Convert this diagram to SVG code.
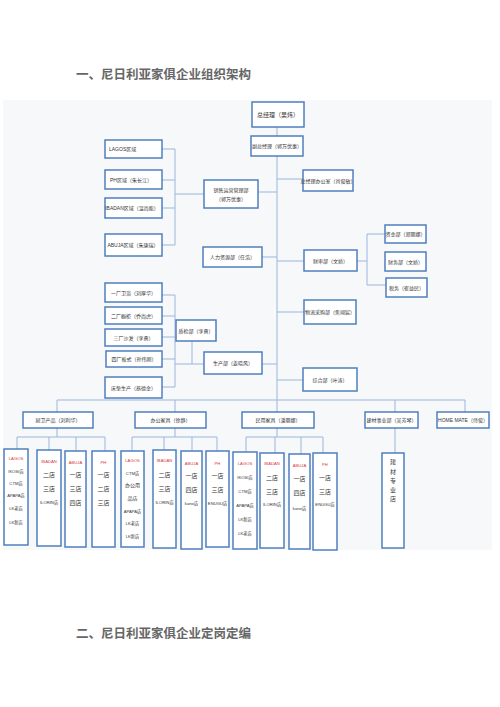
<svg xmlns="http://www.w3.org/2000/svg" width="500" height="707" viewBox="0 0 500 707">
<style>
.t{font-family:"Liberation Sans","Noto Sans CJK SC",sans-serif;font-size:5px;fill:#333;text-anchor:middle}
.c{font-size:6px}
.s{font-size:4.2px}
.r{fill:#d93a3a}
.h{font-family:"Noto Sans CJK SC",sans-serif;font-size:12.5px;fill:#666;font-weight:bold}
rect.b{fill:#fff;stroke:#4f7fbf;stroke-width:1.5}
.ln{fill:none;stroke:#9ab6dc;stroke-width:1}
</style>
<rect width="500" height="707" fill="#fff"/>
<text class="h" x="76" y="79">一、尼日利亚家俱企业组织架构</text>
<text class="h" x="76" y="638">二、尼日利亚家俱企业定岗定编</text>
<rect x="3" y="100" width="489" height="450" fill="#f7f8fa"/>
<g id="connectors" class="ln">
<path d="M277,127 V400"/>
<path d="M258,192 H277 M277,179 H303 M262,257 H277 M277,261 H304 M277,312 H304 M277,380 H303 M262,364 H277"/>
<path d="M357,261 H367 M367,234 V285 M367,234 H385 M367,285 H386"/>
<path d="M162,149 H175 V245 M162,180 H175 M162,208 H175 M162,245 H175 M175,194 H204"/>
<path d="M162,295 H175 V387 M162,316 H175 M162,337 H175 M162,359 H175 M162,387 H175 M175,364 H204 M192,341 V364"/>
<path d="M57,400 H465 M57,400 V412 M175,400 V412 M277,400 V412 M395,400 V412 M465,400 V412"/>
<path d="M57,428 V437 M17,437 H105 M17,437 V449 M49,437 V450 M76,437 V451 M105,437 V451"/>
<path d="M175,428 V437 M132,437 H217 M132,437 V451 M164,437 V450 M192,437 V451 M217,437 V451"/>
<path d="M277,428 V437 M246,437 H323 M246,437 V452 M275,437 V453 M301,437 V454 M323,437 V453"/>
<path d="M395,428 V453"/>
</g>
<g id="gm"><rect class="b" x="252" y="102" width="52" height="25"/><text class="t c" x="278" y="117">总经理（吴炜）</text></g>
<g id="vgm"><rect class="b" x="251" y="136" width="52" height="20"/><text class="t" x="277" y="148">副总经理（郭万优惠）</text></g>
<g id="lagos-region"><rect class="b" x="105" y="140" width="57" height="18"/><text class="t" x="109" y="151" style="text-anchor:start">LAGOS区域</text></g>
<g id="ph-region"><rect class="b" x="105" y="170" width="57" height="19"/><text class="t" x="131" y="181.5">PH区域（朱长江）</text></g>
<g id="ibadan-region"><rect class="b" x="105" y="198" width="57" height="20"/><text class="t" x="132" y="210">IBADAN区域（温尚能）</text></g>
<g id="abuja-region"><rect class="b" x="105" y="234" width="57" height="22"/><text class="t" x="133" y="247">ABUJA区域（朱康瑞）</text></g>
<g id="sales"><rect class="b" x="204" y="180" width="54" height="28"/><text class="t" x="231" y="192">销售运营管理部</text><text class="t" x="231" y="201">（郭万优惠）</text></g>
<g id="gm-office"><rect class="b" x="303" y="170" width="50" height="21"/><text class="t" x="328" y="182.5">总经理办公室（肖俊敏）</text></g>
<g id="hr"><rect class="b" x="203" y="247" width="59" height="20"/><text class="t" x="232.5" y="259">人力资源部（任浩）</text></g>
<g id="finance-audit"><rect class="b" x="304" y="250" width="53" height="21"/><text class="t" x="330.5" y="262.5">财审部（文娇）</text></g>
<g id="fund"><rect class="b" x="385" y="225" width="41" height="18"/><text class="t" x="405.5" y="236">资金部（郑丽娜）</text></g>
<g id="accounting"><rect class="b" x="385" y="252" width="41" height="19"/><text class="t" x="405.5" y="263.5">财务部（文娇）</text></g>
<g id="tax"><rect class="b" x="386" y="278" width="41" height="19"/><text class="t" x="406.5" y="289.5">税务（崔益民）</text></g>
<g id="logistics"><rect class="b" x="304" y="300" width="52" height="24"/><text class="t" x="330" y="314">物流采购部（焦翊宸）</text></g>
<g id="admin"><rect class="b" x="303" y="368" width="54" height="23"/><text class="t" x="330" y="381.5">综合部（叶涛）</text></g>
<g id="f1"><rect class="b" x="105" y="283" width="57" height="19"/><text class="t" x="133.5" y="294.5">一厂卫浴（刘厚华）</text></g>
<g id="f2"><rect class="b" x="105" y="307" width="57" height="17"/><text class="t" x="133.5" y="317.5">二厂橱柜（乔尚虎）</text></g>
<g id="f3"><rect class="b" x="105" y="329" width="57" height="17"/><text class="t" x="133.5" y="339.5">三厂沙发（李勇）</text></g>
<g id="f4"><rect class="b" x="106" y="351" width="56" height="16"/><text class="t" x="134" y="361">四厂板式（孙伟刚）</text></g>
<g id="f5"><rect class="b" x="105" y="377" width="57" height="21"/><text class="t" x="133.5" y="389.5">床垫生产（蔡德金）</text></g>
<g id="qc"><rect class="b" x="176" y="320" width="40" height="21"/><text class="t" x="196" y="332.5">质检部（李勇）</text></g>
<g id="production"><rect class="b" x="204" y="352" width="58" height="22"/><text class="t" x="233" y="365">生产部（姜晓风）</text></g>
<g id="kitchen"><rect class="b" x="23" y="412" width="70" height="16"/><text class="t" x="58" y="422">厨卫产品（刘利华）</text></g>
<g id="office"><rect class="b" x="135" y="412" width="71" height="16"/><text class="t" x="170.5" y="422">办公家具（徐静）</text></g>
<g id="home"><rect class="b" x="242" y="412" width="72" height="16"/><text class="t" x="278" y="422">民用家具（潘丽娜）</text></g>
<g id="building"><rect class="b" x="365" y="412" width="53" height="16"/><text class="t" x="391.5" y="422">建材事业部（吴芳琴）</text></g>
<g id="homemate"><rect class="b" x="437" y="412" width="52" height="16"/><text class="t" x="463" y="422">HOME MATE（侍俊）</text></g>
<g id="k-lagos"><rect class="b" x="4" y="449" width="24" height="96"/><text class="t s r" x="16" y="460">LAGOS</text><text class="t s" x="16" y="473">IKOSI店</text><text class="t s" x="16" y="485">CTM店</text><text class="t s" x="16" y="497">APAPA店</text><text class="t s" x="16" y="510">LK老店</text><text class="t s" x="16" y="524">LK新店</text></g>
<g id="k-ibadan"><rect class="b" x="37" y="450" width="24" height="96"/><text class="t s r" x="49" y="463">IBADAN</text><text class="t c" x="49" y="477">二店</text><text class="t c" x="49" y="491">三店</text><text class="t s" x="49" y="504">ILORIN店</text></g>
<g id="k-abuja"><rect class="b" x="65" y="451" width="21" height="96"/><text class="t s r" x="75.5" y="464">ABUJA</text><text class="t c" x="75.5" y="477">一店</text><text class="t c" x="75.5" y="491">三店</text><text class="t c" x="75.5" y="505">四店</text></g>
<g id="k-ph"><rect class="b" x="92" y="451" width="23" height="96"/><text class="t s r" x="103.5" y="464">PH</text><text class="t c" x="103.5" y="477">一店</text><text class="t c" x="103.5" y="491">二店</text><text class="t c" x="103.5" y="505">三店</text></g>
<g id="o-lagos"><rect class="b" x="121" y="451" width="23" height="96"/><text class="t s r" x="132.5" y="462">LAGOS</text><text class="t s" x="132.5" y="475">CTM店</text><text class="t" x="132.5" y="487">办公用</text><text class="t" x="132.5" y="500">品店</text><text class="t s" x="132.5" y="513">APAPA店</text><text class="t s" x="132.5" y="525">LK老店</text><text class="t s" x="132.5" y="538">LK新店</text></g>
<g id="o-ibadan"><rect class="b" x="153" y="450" width="23" height="98"/><text class="t s r" x="164.5" y="462">IBADAN</text><text class="t c" x="164.5" y="477">二店</text><text class="t c" x="164.5" y="491">三店</text><text class="t s" x="164.5" y="504">ILORIN店</text></g>
<g id="o-abuja"><rect class="b" x="181" y="451" width="21" height="98"/><text class="t s r" x="191.5" y="465">ABUJA</text><text class="t c" x="191.5" y="478">一店</text><text class="t c" x="191.5" y="492">四店</text><text class="t s" x="191.5" y="505">kano店</text></g>
<g id="o-ph"><rect class="b" x="206" y="451" width="23" height="96"/><text class="t s r" x="217.5" y="465">PH</text><text class="t c" x="217.5" y="478">一店</text><text class="t c" x="217.5" y="492">三店</text><text class="t s" x="217.5" y="505">ENUGU店</text></g>
<g id="h-lagos"><rect class="b" x="233" y="452" width="24" height="97"/><text class="t s r" x="245" y="465">LAGOS</text><text class="t s" x="245" y="479">IKOSI店</text><text class="t s" x="245" y="493">CTM店</text><text class="t s" x="245" y="507">APAPA店</text><text class="t s" x="245" y="521">LK新店</text><text class="t s" x="245" y="535">LK老店</text></g>
<g id="h-ibadan"><rect class="b" x="260" y="453" width="24" height="95"/><text class="t s r" x="272" y="465">IBADAN</text><text class="t c" x="272" y="480">二店</text><text class="t c" x="272" y="494">三店</text><text class="t s" x="272" y="506">ILORIN店</text></g>
<g id="h-abuja"><rect class="b" x="289" y="454" width="21" height="95"/><text class="t s r" x="299.5" y="467">ABUJA</text><text class="t c" x="299.5" y="481">一店</text><text class="t c" x="299.5" y="495">四店</text><text class="t s" x="299.5" y="510">kano店</text></g>
<g id="h-ph"><rect class="b" x="313" y="453" width="24" height="97"/><text class="t s r" x="325" y="466">PH</text><text class="t c" x="325" y="480">一店</text><text class="t c" x="325" y="494">三店</text><text class="t s" x="325" y="506">ENUGU店</text></g>
<g id="b-store"><rect class="b" x="382" y="453" width="22" height="95"/><text class="t c" x="393" y="464">建</text><text class="t c" x="393" y="474">材</text><text class="t c" x="393" y="483">专</text><text class="t c" x="393" y="492">业</text><text class="t c" x="393" y="501">店</text></g>
</svg>
